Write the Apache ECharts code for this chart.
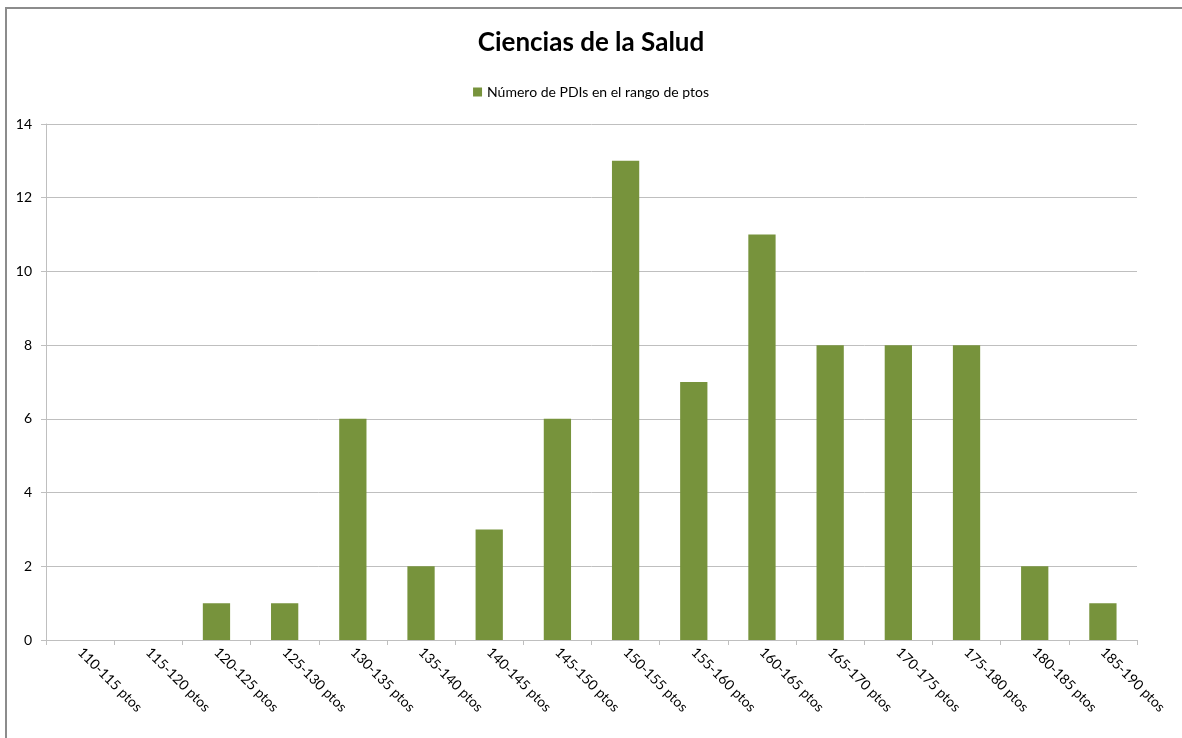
<!DOCTYPE html>
<html>
<head>
<meta charset="utf-8">
<script src="https://cdn.jsdelivr.net/npm/echarts@6/dist/echarts.min.js"></script>
<style>
html,body{margin:0;padding:0;background:#fff;}
#chart{width:1182px;height:738px;}
</style>
</head>
<body>
<div id="chart"></div>
<script>
const categories = ['110-115 ptos','115-120 ptos','120-125 ptos','125-130 ptos','130-135 ptos','135-140 ptos','140-145 ptos','145-150 ptos','150-155 ptos','155-160 ptos','160-165 ptos','165-170 ptos','170-175 ptos','175-180 ptos','180-185 ptos','185-190 ptos'];
const values = [0,0,1,1,6,2,3,6,13,7,11,8,8,8,2,1];
const seriesName = 'Número de PDIs en el rango de ptos';
const titleText = 'Ciencias de la Salud';

const chart = echarts.init(document.getElementById('chart'));
const font = 'Lato, "Open Sans", sans-serif';
chart.setOption({
  animation: false,
  backgroundColor: '#fff',
  graphic: [{
    type: 'rect',
    shape: {x: 6, y: 8, width: 1200, height: 760},
    style: {fill: 'none', stroke: '#8c8c8c', lineWidth: 2},
    silent: true
  }],
  title: {
    text: titleText,
    left: 'center',
    top: 25,
    textStyle: {fontFamily: font, fontWeight: 'bold', fontSize: 26, color: '#000'}
  },
  legend: {
    data: [seriesName],
    top: 80,
    left: 'center',
    icon: 'rect',
    itemWidth: 9,
    itemHeight: 9,
    itemGap: 4,
    textStyle: {fontFamily: font, fontSize: 14, color: '#000'}
  },
  grid: {left: 46, right: 45, top: 124, bottom: 98, containLabel: false},
  xAxis: {
    type: 'category',
    data: categories,
    boundaryGap: true,
    axisLine: {lineStyle: {color: '#bfbfbf', width: 1}},
    axisTick: {show: true, alignWithLabel: false, length: 5, lineStyle: {color: '#bfbfbf'}},
    axisLabel: {rotate: -45, interval: 0, margin: 10, fontFamily: font, fontSize: 14, color: '#000'}
  },
  yAxis: {
    type: 'value',
    min: 0,
    max: 14,
    interval: 2,
    axisLine: {show: true, lineStyle: {color: '#bfbfbf', width: 1}},
    axisTick: {show: true, length: 5, lineStyle: {color: '#bfbfbf'}},
    axisLabel: {fontFamily: font, fontSize: 14, color: '#000', margin: 14},
    splitLine: {lineStyle: {color: '#bfbfbf', width: 1}}
  },
  series: [{
    name: seriesName,
    type: 'bar',
    data: values,
    barWidth: '40%',
    itemStyle: {color: '#77933c'}
  }]
});
</script>
</body>
</html>
